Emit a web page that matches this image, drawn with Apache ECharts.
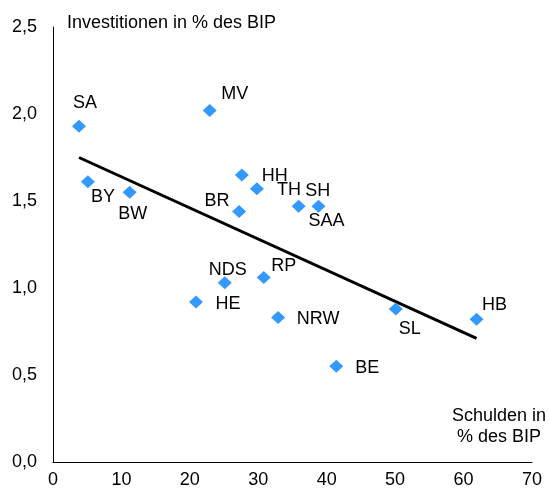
<!DOCTYPE html>
<html>
<head>
<meta charset="utf-8">
<script src="https://cdn.jsdelivr.net/npm/echarts@6/dist/echarts.min.js"></script>
<style>
  html, body { margin: 0; padding: 0; background: #fff; }
  #chart { width: 549px; height: 490px; }
</style>
</head>
<body>
<div id="chart"></div>
<script>
// Bundesländer: Schulden (% BIP) vs. Investitionen (% BIP)
const laender = ['SA', 'BY', 'BW', 'MV', 'BR', 'HH', 'TH', 'SH', 'SAA', 'NDS', 'RP', 'HE', 'NRW', 'SL', 'HB', 'BE']
const schulden = [3.8, 5.1, 11.2, 22.9, 27.2, 27.6, 29.8, 35.9, 38.8, 25.1, 30.8, 20.9, 32.9, 50.1, 61.9, 41.4]
const investitionen = [1.93, 1.61, 1.55, 2.02, 1.44, 1.65, 1.57, 1.47, 1.47, 1.03, 1.06, 0.92, 0.83, 0.88, 0.82, 0.55]

// Trendlinie (Endpunkte aus der Grafik)
const trendX = [3.8, 61.9]
const trendY = [1.75, 0.71]

// Beschriftungsversatz je Punkt in px
const labelOffsets = [
  [6, -23], [15, 15], [3, 22], [25, -16], [-22, -10], [33, 1], [32, 1], [19, -15],
  [8, 15], [3, -13], [20, -12], [32, 2], [40, 1], [14, 20], [18, -14], [31, 2]
]

const font = 'Liberation Sans, Arial, sans-serif'
const fontSize = 18
const chart = echarts.init(document.getElementById('chart'))

const option = {
  animation: false,
  textStyle: { fontFamily: font },
  grid: { left: 53, right: 16, top: 27, bottom: 28 },
  xAxis: {
    type: 'value',
    min: 0,
    max: 70,
    interval: 10,
    name: 'Schulden in\n% des BIP',
    nameLocation: 'end',
    nameGap: -33,
    nameTextStyle: {
      color: '#000', fontSize: fontSize, fontFamily: font,
      align: 'center', verticalAlign: 'bottom', lineHeight: 21,
      padding: [0, 0, 14, 0]
    },
    axisLine: { lineStyle: { color: '#000', width: 1 } },
    axisTick: { show: false },
    splitLine: { show: false },
    axisLabel: { color: '#000', fontSize: fontSize, fontFamily: font, margin: 9 }
  },
  yAxis: {
    type: 'value',
    min: 0,
    max: 2.5,
    interval: 0.5,
    name: 'Investitionen in % des BIP',
    nameLocation: 'end',
    nameGap: 4,
    nameTextStyle: {
      color: '#000', fontSize: fontSize, fontFamily: font,
      align: 'left', verticalAlign: 'middle', padding: [0, 0, 0, 14]
    },
    axisLine: { show: true, lineStyle: { color: '#000', width: 1 } },
    axisTick: { show: false },
    splitLine: { show: false },
    axisLabel: {
      color: '#000', fontSize: fontSize, fontFamily: font, margin: 16,
      formatter: v => v.toFixed(1).replace('.', ',')
    }
  },
  series: [
    {
      type: 'line',
      data: trendX.map((x, i) => [x, trendY[i]]),
      symbol: 'none',
      lineStyle: { color: '#000', width: 3 },
      z: 1
    },
    {
      type: 'scatter',
      symbol: 'diamond',
      symbolSize: [14, 13],
      itemStyle: { color: '#3399FF', opacity: 1 },
      z: 2,
      data: laender.map((name, i) => ({
        name,
        value: [schulden[i], investitionen[i]],
        label: { offset: labelOffsets[i] }
      })),
      label: {
        show: true,
        position: 'inside',
        align: 'center',
        verticalAlign: 'middle',
        formatter: p => p.name,
        color: '#000',
        fontSize: fontSize,
        fontFamily: font
      }
    }
  ]
}

chart.setOption(option)

window.addEventListener('resize', () => {
  chart.resize()
})
</script>
</body>
</html>
